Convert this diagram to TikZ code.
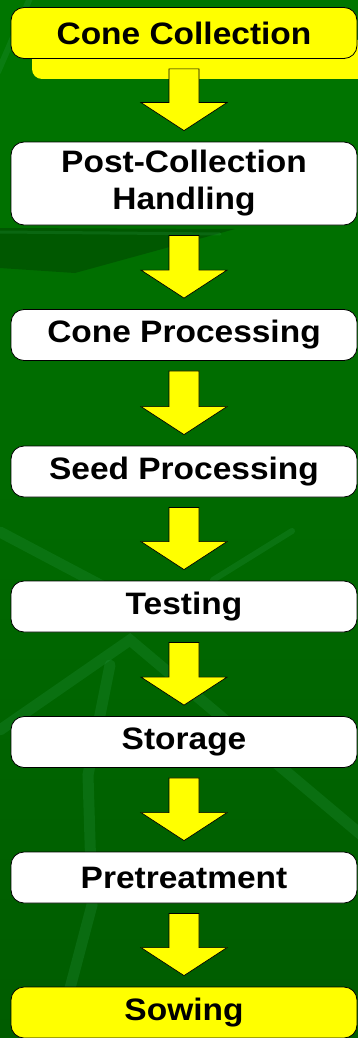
\documentclass[tikz,border=0pt]{standalone}
\usepackage{fontspec}
\newfontfamily\boxfont{Liberation Sans}[FakeStretch=1.08]
\usetikzlibrary{calc}

\definecolor{bgtop}{RGB}{0,118,0}
\definecolor{bgbot}{RGB}{0,92,0}
\definecolor{bgdark}{RGB}{0,88,0}
\definecolor{streakgreen}{RGB}{40,150,70}
\definecolor{boxyellow}{RGB}{255,255,0}

\tikzset{
  stagebox/.style={draw=black, line width=0.8pt, fill=white, rounded corners=13pt,
    minimum width=346pt, minimum height=51pt, inner sep=0pt, align=center,
    font=\boxfont\bfseries\fontsize{31}{37}\selectfont},
  endbox/.style={stagebox, fill=boxyellow},
  arrowblock/.style={draw=black, line width=0.7pt, fill=boxyellow, line join=miter},
  streak/.style={streakgreen, opacity=0.25, line width=11pt, line cap=round}
}

% block arrow from one stage to the next
\newcommand{\stagearrow}[2]{%
  \draw[arrowblock] let \p1=(#1.south), \p2=(#2.north) in
    (\x1-15pt,\y1-10pt) -- (\x1+15pt,\y1-10pt) -- (\x1+15pt,\y2+39pt)
    -- (\x1+43pt,\y2+39pt) -- (\x1,\y2+11pt) -- (\x1-43pt,\y2+39pt)
    -- (\x1-15pt,\y2+39pt) -- cycle;}

\begin{document}
\begin{tikzpicture}[x=1pt,y=-1pt]

    \useasboundingbox (0,0) rectangle (358,1038);
    \clip (0,0) rectangle (358,1038);

    % Background
    \shade[top color=bgtop, bottom color=bgbot] (0,0) rectangle (358,1038);
    \fill[bgdark] (0,228) -- (235,229) -- (75,273) -- (0,268) -- cycle;
    \draw[streak, line width=3pt] (0,232) -- (220,234);
    \draw[streak, line width=6pt] (-2,72) -- (30,-2);
    \draw[streak] (0,532) -- (123,597);
    \draw[streak] (0,730) -- (130,640) -- (365,838);
    \draw[streak] (110,665) -- (88,775) -- (92,905) -- (55,1045);
    \draw[streak, line width=6pt] (213,580) -- (292,531);

    % Yellow tab behind the first stage
    \fill[boxyellow, rounded corners=10pt] (32,40) rectangle (380,79);

    % Stages
    \node[endbox]   (collect)  at (184,33)   {Cone Collection};
    \node[stagebox, minimum height=83pt] (handle) at (184,183.5) {Post-Collection\\Handling};
    \node[stagebox] (coneproc) at (184,335)   {Cone Processing};
    \node[stagebox] (seedproc) at (184,471.5) {Seed Processing};
    \node[stagebox] (testing)  at (184,606.5) {Testing};
    \node[stagebox] (storage)  at (184,742)   {Storage};
    \node[stagebox] (pretreat) at (184,877.5) {Pretreatment};
    \node[endbox]   (sowing)   at (184,1012.5) {Sowing};

    % Arrows between stages
    \stagearrow{collect}{handle}
    \stagearrow{handle}{coneproc}
    \stagearrow{coneproc}{seedproc}
    \stagearrow{seedproc}{testing}
    \stagearrow{testing}{storage}
    \stagearrow{storage}{pretreat}
    \stagearrow{pretreat}{sowing}

\end{tikzpicture}
\end{document}
